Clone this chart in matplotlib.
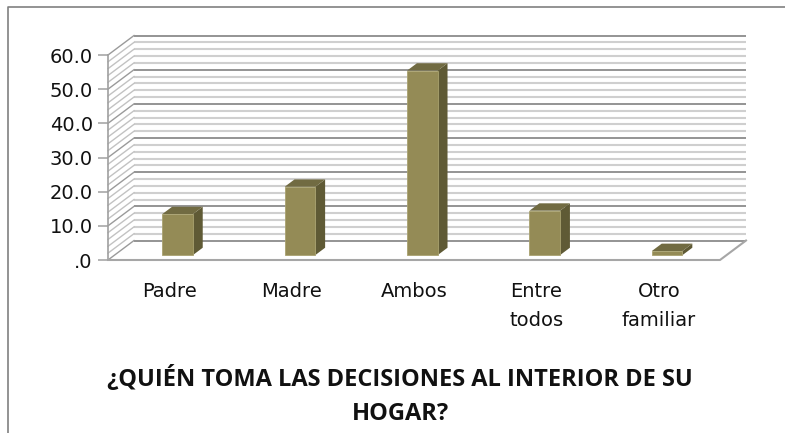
import numpy as np
import matplotlib
matplotlib.use('Agg')
import matplotlib.pyplot as plt
from matplotlib.patches import Polygon

categories = ['Padre', 'Madre', 'Ambos', 'Entre\ntodos', 'Otro\nfamiliar']
values = [12.0, 20.0, 54.0, 13.0, 1.2]
yticks = [0, 10, 20, 30, 40, 50, 60]
ylabels = ['.0', '10.0', '20.0', '30.0', '40.0', '50.0', '60.0']
title = '¿QUIÉN TOMA LAS DECISIONES AL INTERIOR DE SU\nHOGAR?'

# depth of the fake 3d box, in data units
DX = 0.2125
DY = 5.7
bar_w = 0.25
bar_shift = 0.015
d0, d1 = 0.25, 0.63

def pt(x, y, d=0.0):
    return (x + d * DX, y + d * DY)

fig = plt.figure(figsize=(7.85, 4.33), dpi=100)
ax = fig.add_axes([108 / 785, (433 - 260) / 433, 612 / 785, 205 / 433])
ax.set_xlim(0, 5)
ax.set_ylim(0, 60)
ax.patch.set_visible(False)
for s in ['top', 'right', 'bottom']:
    ax.spines[s].set_visible(False)
ax.spines['left'].set_color('#a0a0a0')
ax.spines['left'].set_linewidth(1.2)

# wall lines, light every 2 and dark every 10
for v in range(0, 61, 2):
    major = v % 10 == 0
    col = '#949494' if major else '#cfcfcf'
    lw = 1.4 if major else 1.5
    p1, p2 = pt(0, v, 1), pt(5, v, 1)
    ax.plot([p1[0], p2[0]], [p1[1], p2[1]], color=col, lw=lw, clip_on=False, zorder=2,
            solid_capstyle='butt')
    p3 = pt(0, v, 0)
    ax.plot([p3[0], p1[0]], [p3[1], p1[1]], color='#9a9a9a' if major else '#c2c2c2',
            lw=1.0, clip_on=False, zorder=2)

# floor
f = [pt(0, 0, 0), pt(5, 0, 0), pt(5, 0, 1)]
ax.plot([q[0] for q in f], [q[1] for q in f], color='#a6a6a6', lw=1.5, clip_on=False, zorder=3)

# bars
for i, v in enumerate(values):
    l = i + 0.5 + bar_shift - bar_w / 2
    r = i + 0.5 + bar_shift + bar_w / 2
    side = [pt(r, 0, d0), pt(r, 0, d1), pt(r, v, d1), pt(r, v, d0)]
    top = [pt(l, v, d0), pt(r, v, d0), pt(r, v, d1), pt(l, v, d1)]
    front = [pt(l, 0, d0), pt(r, 0, d0), pt(r, v, d0), pt(l, v, d0)]
    ax.add_patch(Polygon(side, fc='#5f5a35', ec='none', zorder=4, clip_on=False))
    ax.add_patch(Polygon(top, fc='#716b42', ec='none', zorder=4, clip_on=False))
    ax.add_patch(Polygon(front, fc='#948b56', ec='#a9a270', lw=0.6, zorder=5, clip_on=False))

ax.set_yticks(yticks)
ax.set_yticklabels(ylabels, fontsize=14, color='#111111')
ax.tick_params(axis='y', length=7, width=1.1, color='#a0a0a0', pad=4)
ax.set_xticks(np.arange(5) + 0.5)
ax.set_xticklabels(categories, fontsize=14, color='#111111', linespacing=1.65)
ax.tick_params(axis='x', length=0, pad=16)

fig.text(400 / 785, 1 - 396 / 433, title, ha='center', va='center', fontsize=17,
         fontweight='bold', family='Open Sans', color='#111111', linespacing=1.5)

# outer frame
fig.add_artist(plt.Line2D([8 / 785, 8 / 785, 1], [0, 1 - 7 / 433, 1 - 7 / 433],
                          color='#808080', lw=1.2))
fig.savefig('out.png', dpi=100)
